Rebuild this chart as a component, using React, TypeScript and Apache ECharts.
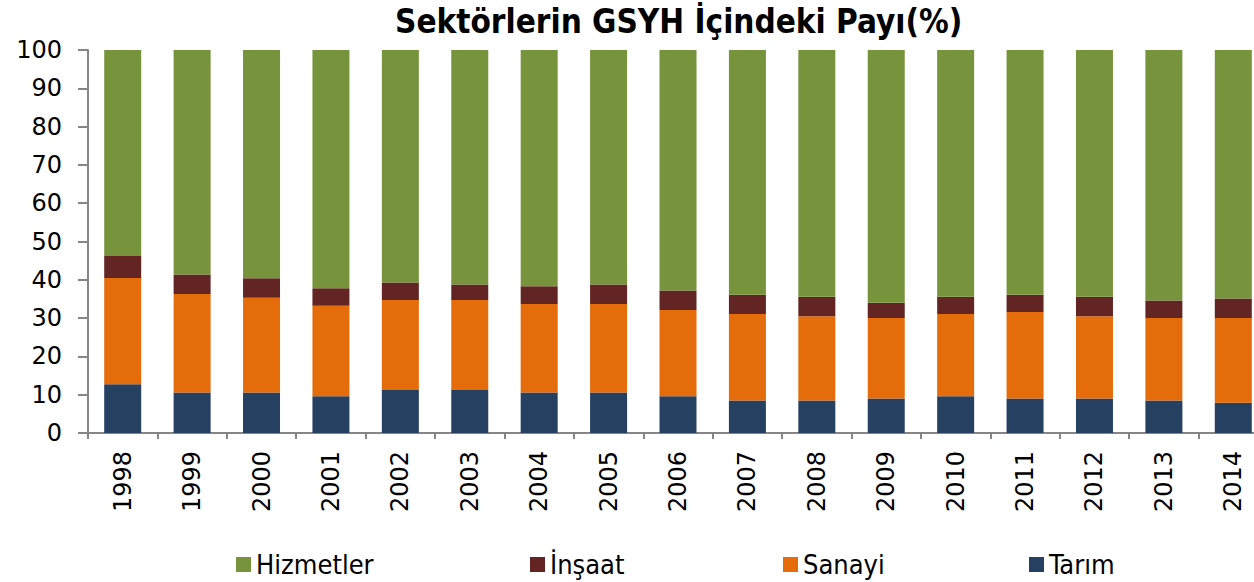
import React, { useEffect, useRef } from "react";
import * as echarts from "echarts";

const years = ["1998","1999","2000","2001","2002","2003","2004","2005","2006","2007","2008","2009","2010","2011","2012","2013","2014"];
const tarim = [12.7,10.6,10.6,9.6,11.2,11.2,10.6,10.6,9.6,8.5,8.5,9.0,9.6,9.0,9.0,8.5,7.9];
const sanayi = [27.8,25.7,24.7,23.6,23.5,23.5,23.1,23.1,22.5,22.6,22.0,21.0,21.5,22.6,21.5,21.5,22.1];
const insaat = [5.7,5.1,5.1,4.6,4.6,4.1,4.6,5.1,5.1,5.0,5.1,4.0,4.5,4.5,5.1,4.6,5.1];
const hizmetler = [53.8,58.6,59.6,62.2,60.7,61.2,61.7,61.2,62.8,63.9,64.4,66.0,64.4,63.9,64.4,65.4,64.9];
const yTicks = [0,10,20,30,40,50,60,70,80,90,100];

const names = { hiz: "Hizmetler", ins: "İnşaat", san: "Sanayi", tar: "Tarım" };
const colors = { hiz: "#77933C", ins: "#632523", san: "#E46C0A", tar: "#254061" };

export default function App() {
  const ref = useRef<HTMLDivElement>(null);
  useEffect(() => {
    document.body.style.margin = "0";
    const chart = echarts.init(ref.current!, null, { renderer: "svg" });
    const legendFont = { fontFamily: "DejaVu Sans Condensed", fontSize: 27, color: "#000" };
    const mkLegend = (name: string, left: number) => ({
      data: [name], left, top: 546, icon: "rect", itemWidth: 15, itemHeight: 15, itemGap: 5,
      textStyle: legendFont,
    });
    const bar = (name: string, data: number[], color: string) => ({
      name, type: "bar", stack: "s", data, barWidth: 37,
      itemStyle: { color },
    });
    chart.setOption({
      animation: false,
      title: {
        text: "Sektörlerin GSYH İçindeki Payı(%)",
        left: 390, top: 0,
        textStyle: { fontFamily: "DejaVu Sans Condensed", fontWeight: "bold", fontSize: 33, color: "#000" },
      },
      legend: [
        mkLegend(names.hiz, 231),
        mkLegend(names.ins, 525),
        mkLegend(names.san, 778),
        mkLegend(names.tar, 1024),
      ],
      grid: { left: 88, width: 1180, top: 50, bottom: 149, containLabel: false, outerBoundsMode: "none" },
      xAxis: {
        type: "category", data: years,
        axisLine: { lineStyle: { color: "#868686", width: 2 } },
        axisTick: { show: true, length: 6, lineStyle: { color: "#868686", width: 2 } },
        axisLabel: { rotate: 90, margin: 18, fontFamily: "DejaVu Sans", fontSize: 24, color: "#000" },
      },
      yAxis: {
        type: "value", min: yTicks[0], max: yTicks[yTicks.length - 1], interval: 10,
        axisLine: { show: true, lineStyle: { color: "#868686", width: 2 } },
        axisTick: { show: true, length: 10, lineStyle: { color: "#868686", width: 2 } },
        splitLine: { show: false },
        axisLabel: { margin: 26, fontFamily: "DejaVu Sans", fontSize: 24, color: "#000" },
      },
      series: [
        bar(names.tar, tarim, colors.tar),
        bar(names.san, sanayi, colors.san),
        bar(names.ins, insaat, colors.ins),
        bar(names.hiz, hizmetler, colors.hiz),
      ],
    });
    return () => chart.dispose();
  }, []);
  return <div ref={ref} style={{ width: 1254, height: 582 }} />;
}
